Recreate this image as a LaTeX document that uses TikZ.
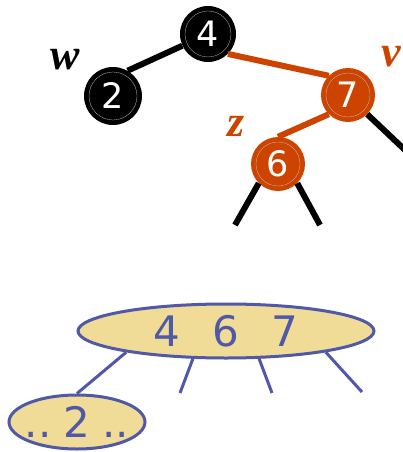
\documentclass[tikz,border=0pt]{standalone}
\usepackage{fontspec}
\setmainfont{DejaVu Sans}
\newfontfamily\labelfont{Liberation Serif}
\usepackage{xcolor}
\usetikzlibrary{shapes.geometric,calc}
\definecolor{rbred}{RGB}{204,68,0}
\definecolor{btblue}{RGB}{80,88,168}
\definecolor{btfill}{RGB}{240,220,150}
\tikzset{
  rbnode/.style = {circle, fill=#1, inner sep=0pt, minimum size=56pt,
    text=white, font=\fontsize{35}{35}\selectfont},
  rbedge/.style = {draw=#1, line width=6pt},
  rblabel/.style = {text=#1, font=\labelfont\bfseries\itshape\fontsize{44}{44}\selectfont},
  btnode/.style = {ellipse, draw=btblue, fill=btfill, line width=3pt, inner sep=0pt,
    text=btblue, font=\fontsize{42}{42}\selectfont},
  btedge/.style = {draw=btblue, line width=3pt}
}

\begin{document}
\begin{tikzpicture}[x=1pt,y=-1pt]

  \clip (0,0) rectangle (403,452);

  % red-black tree
  \node[rbnode=black] (n4) at (208,34) {4};
  \node[rbnode=black, minimum size=58pt] (n2) at (113,96) {2};
  \node[rbnode=rbred, minimum size=54pt] (n7) at (348,95) {7};
  \node[rbnode=rbred, minimum size=54pt] (n6) at (278,164) {6};

  \foreach \n/\r in {n4/23, n2/24, n7/22, n6/22}{
     \draw[gray!50, line width=0.3pt] (\n) circle (\r pt);
  }

  \node[rblabel=black] (w) at (65,60) {w};
  \node[rblabel=rbred] (v) at (391,57) {v};
  \node[rblabel=rbred] (z) at (236,126) {z};

  \draw[rbedge=black] (n2.60) -- (n4);
  \draw[rbedge=rbred] (n4.-45) -- (n7.135);
  \draw[rbedge=rbred] (n7.225) -- (n6.north);

  \coordinate (r7) at (424,168);
  \coordinate (l6) at (235,225);
  \coordinate (r6) at (320,225);
  \draw[rbedge=black] (n7.-45) -- (r7);
  \draw[rbedge=black] (n6.225) -- (l6);
  \draw[rbedge=black] (n6.-45) -- (r6);

  % (2,4) tree
  \node[btnode, minimum width=296pt, minimum height=54pt] (big) at (226,331)
     {4\hspace{32pt}6\hspace{32pt}7};
  \node[btnode, minimum width=136pt, minimum height=54pt] (small) at (77,422)
     {\makebox[0pt]{..\hspace{12pt}2\hspace{12pt}..}};

  \draw[btedge] (big.192) -- (small.north);
  \foreach \a/\x/\y/\c in {220/180/393/b1, -40/272/393/b2, -12/362/392/b3}{
     \coordinate (\c) at (\x,\y);
     \draw[btedge] (big.\a) -- (\c);
  }

\end{tikzpicture}
\end{document}
